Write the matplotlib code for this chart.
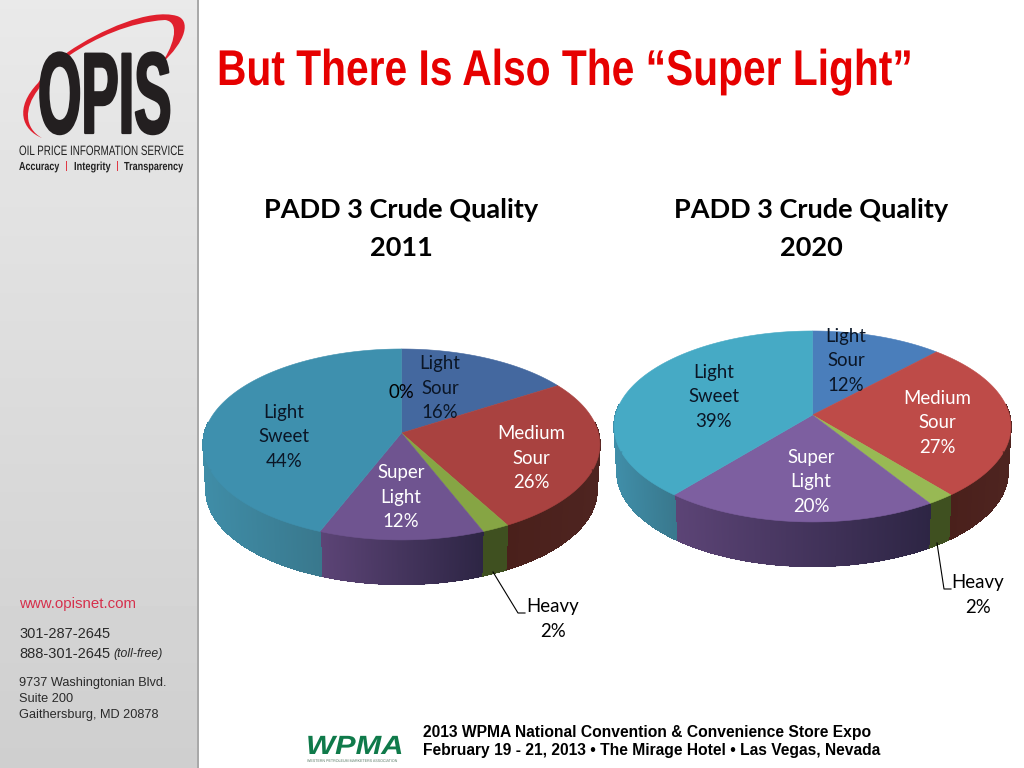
import numpy as np
import matplotlib
matplotlib.use('Agg')
from matplotlib import pyplot as plt
from matplotlib.collections import LineCollection, PolyCollection
from matplotlib.colors import to_rgb
from matplotlib.patches import PathPatch, Polygon, Rectangle
from matplotlib.path import Path
from matplotlib.patheffects import AbstractPathEffect
from matplotlib.text import Text
from matplotlib.textpath import TextPath
from matplotlib.transforms import Affine2D

# data, clockwise from 12 o'clock
categories = ['Light Sour', 'Medium Sour', 'Heavy', 'Super Light', 'Light Sweet', '']
values_2011 = [16, 26, 2, 12, 44, 0]
values_2020 = [12, 27, 2, 20, 39]
titles = ['PADD 3 Crude Quality\n2011', 'PADD 3 Crude Quality\n2020']

top_2011 = ['#44689f', '#a94240', '#86a544', '#6f5490', '#3e90ae', '#3e90ae']
top_2020 = ['#4a7ebb', '#be4b48', '#98b954', '#7d5fa0', '#46aac5']
wall_left = ['#44689f', '#4a201b', '#3f5020', '#5c4476', '#3f8ca6', '#3f8ca6']
wall_right = ['#44689f', '#4e2420', '#3f5020', '#2d2544', '#39788d', '#39788d']
label_ink = ['#0b1626', 'white', 'black', 'white', '#0b1626', 'black']

# label centres, pixels
label_xy_2011 = [(440, 388), (531, 458), (553, 619), (401, 497), (284, 437), (401, 392)]
label_xy_2020 = [(846, 361), (937, 423), (978, 595), (811, 482), (714, 397)]

# perspective of the pie disc
K = 0.12
A = 94.1
R = 197.0
WALL_DROP = 46
WALL_SCALE = 0.985
DPI = 100


class Stretch(AbstractPathEffect):
	def __init__(self, sy=1.0, stroke=0.0):
		self.sy = sy
		self.stroke = stroke

	def draw_path(self, renderer, gc, tpath, affine, rgbFace=None):
		gc0 = renderer.new_gc()
		gc0.copy_properties(gc)
		if self.stroke:
			gc0.set_linewidth(self.stroke)
			gc0.set_foreground(rgbFace)
		renderer.draw_path(gc0, tpath, Affine2D().scale(1.0, self.sy) + affine, rgbFace)
		gc0.restore()


def fitted(ax, x, y, s, width, fontsize, stroke=0.0, **kw):
	# no condensed font here: pick the size that gives the width, then stretch the glyphs back up
	t = Text(x, y, s, ha='left', va='baseline', fontsize=fontsize, transform=ax.transData, **kw)
	ink = TextPath((0, 0), s, prop=t.get_fontproperties()).get_extents()
	size = fontsize * width / (ink.width * DPI / 72)
	t.set_fontsize(size)
	t.set_path_effects([Stretch(fontsize / size, stroke)])
	ax.add_artist(t)
	return t


def rim(theta, cx, cy, scale=1.0, drop=0.0):
	u = np.sin(theta)
	v = np.cos(theta)
	w = 1 + K * v
	return cx + scale * R * u / w, cy + drop - scale * A * v / w


def draw_walls(ax, values, cx, cy):
	edges = np.cumsum([0] + list(values)) / sum(values) * 2 * np.pi
	thetas = np.radians(np.arange(84, 276.25, 0.25))
	polys = []
	colors = []
	rim_segs = []
	for a, b in zip(thetas[:-1], thetas[1:]):
		mid = (a + b) / 2
		i = np.searchsorted(edges, mid) - 1
		lo = max(edges[i], thetas[0])
		hi = min(edges[i + 1], thetas[-1])
		xa, xb = rim(np.array([lo, hi]), cx, cy)[0]
		xm = rim(mid, cx, cy)[0]
		t = (xm - min(xa, xb)) / max(abs(xb - xa), 1)
		col = (1 - t) * np.array(to_rgb(wall_left[i])) + t * np.array(to_rgb(wall_right[i]))
		x0, y0 = rim(a, cx, cy)
		x1, y1 = rim(b, cx, cy)
		x2, y2 = rim(b, cx, cy, WALL_SCALE, WALL_DROP)
		x3, y3 = rim(a, cx, cy, WALL_SCALE, WALL_DROP)
		polys.append([(x0, y0), (x1, y1), (x2, y2), (x3, y3)])
		rim_segs.append([(x2, y2), (x3, y3)])
		colors.append(col)
	ax.add_collection(PolyCollection(polys, facecolors=colors, edgecolors=colors, linewidths=0.5, antialiaseds=False))
	ax.add_collection(LineCollection(rim_segs, colors=colors, linewidths=0.9))


def draw_top(ax, values, colors, cx, cy):
	edges = np.cumsum([0] + list(values)) / sum(values) * 2 * np.pi
	for start, stop, color in zip(edges[:-1], edges[1:], colors):
		if stop <= start:
			continue
		t = np.linspace(start, stop, 120)
		x, y = rim(t, cx, cy)
		pts = [(cx, cy)] + list(zip(x, y))
		ax.add_patch(Polygon(pts, closed=True, facecolor=color, edgecolor=color, linewidth=0.4))


def draw_labels(ax, values, positions):
	for name, value, ink, (x, y) in zip(categories, values, label_ink, positions):
		words = name.split() + ['%d%%' % value]
		ax.text(x, y, '\n'.join(words), ha='center', va='center', color=ink,
			fontsize=13.4, family='Lato', linespacing=1.52)


def draw_pie(ax, values, colors, positions, cx, cy):
	draw_walls(ax, values, cx, cy)
	draw_top(ax, values, colors, cx, cy)
	draw_labels(ax, values, positions)


def draw_sidebar(ax):
	shade = np.linspace(0.915, 0.81, 256).reshape(-1, 1)
	ax.imshow(shade, cmap='gray', vmin=0, vmax=1, extent=(0, 197, 768, 0), aspect='auto', zorder=0)
	ax.add_patch(Rectangle((197, 0), 2, 768, facecolor='#a9a9a9', edgecolor='none'))
	ax.set_xlim(0, 1024)
	ax.set_ylim(768, 0)

	swoosh = Path([(42, 138), (22, 130), (14, 108), (38, 83), (45, 72), (55, 62), (68, 52),
		(100, 30), (150, 8), (177, 16), (190, 20), (188, 40), (160, 65),
		(172, 50), (182, 22), (165, 20), (130, 22), (95, 38), (70, 55),
		(55, 65), (45, 78), (38, 90), (24, 108), (24, 128), (42, 138)],
		[Path.MOVETO] + [Path.CURVE4] * 24)
	ax.add_patch(PathPatch(swoosh, facecolor='#e0202e', edgecolor='none'))

	fitted(ax, 38, 133, 'OPIS', 129, 83, stroke=1.6, family='Liberation Sans', weight='bold', color='#231f20')

	sans = dict(family='Liberation Sans', color='#222222')
	fitted(ax, 19, 155, 'OIL PRICE INFORMATION SERVICE', 164, 9.8, **sans)
	fitted(ax, 19, 170, 'Accuracy', 40, 8.4, weight='bold', **sans)
	fitted(ax, 74, 170, 'Integrity', 36, 8.4, weight='bold', **sans)
	fitted(ax, 124, 170, 'Transparency', 59, 8.4, weight='bold', **sans)
	ax.text(66, 166, '|', fontsize=8.2, family='Liberation Sans', color='#e0202e', ha='center', va='center')
	ax.text(117, 166, '|', fontsize=8.2, family='Liberation Sans', color='#e0202e', ha='center', va='center')

	phone = dict(family='Liberation Sans', fontsize=10.5, color='#2a2a2a', va='center')
	plain = dict(family='Liberation Sans', fontsize=9.2, color='#2a2a2a', va='center')
	ax.text(19, 604, 'www.opisnet.com', family='Liberation Sans', fontsize=10.8, color='#d5304c', va='center')
	ax.text(19, 634, '301-287-2645', **phone)
	ax.text(19, 654, '888-301-2645', **phone)
	ax.text(113, 654, '(toll-free)', style='italic', family='Liberation Sans', fontsize=8.8,
		color='#2a2a2a', va='center')
	ax.text(19, 683, '9737 Washingtonian Blvd.', **plain)
	ax.text(19, 699, 'Suite 200', **plain)
	ax.text(19, 715, 'Gaithersburg, MD 20878', **plain)


def draw_footer(ax):
	fitted(ax, 306, 754, 'WPMA', 93, 19, family='Liberation Sans', weight='bold', style='italic', color='#0f7a4a')
	fitted(ax, 307, 762, 'WESTERN PETROLEUM MARKETERS ASSOCIATION', 90, 2.9, family='Liberation Sans', color='#5a7a66')
	bold = dict(family='Liberation Sans', weight='bold', fontsize=11.25, color='black', va='center')
	ax.text(423, 732, '2013 WPMA National Convention & Convenience Store Expo', **bold)
	ax.text(423, 751, 'February 19 - 21, 2013 \u2022 The Mirage Hotel \u2022 Las Vegas, Nevada', **bold)


fig = plt.figure(figsize=(10.24, 7.68), dpi=DPI, facecolor='white')
ax = fig.add_axes([0, 0, 1, 1])
ax.set_xlim(0, 1024)
ax.set_ylim(768, 0)
ax.axis('off')

draw_sidebar(ax)

fitted(ax, 217, 85, 'But There Is Also The \u201cSuper Light\u201d', 690, 36.2, family='Liberation Sans',
	weight='bold', color='#e60000')

ax.text(401, 229, titles[0], family='Lato', weight='bold', fontsize=19.5, ha='center', va='center', linespacing=1.67)
ax.text(811, 229, titles[1], family='Lato', weight='bold', fontsize=19.5, ha='center', va='center', linespacing=1.67)

draw_pie(ax, values_2011, top_2011, label_xy_2011, 401.5, 433)
draw_pie(ax, values_2020, top_2020, label_xy_2020, 812.5, 415)

# leader lines to the Heavy labels
ax.plot([493, 518, 525], [572, 613, 613], color='black', lw=0.8)
ax.plot([937, 944, 951], [543, 589, 589], color='black', lw=0.8)

draw_footer(ax)

fig.savefig('out.png', dpi=DPI)
